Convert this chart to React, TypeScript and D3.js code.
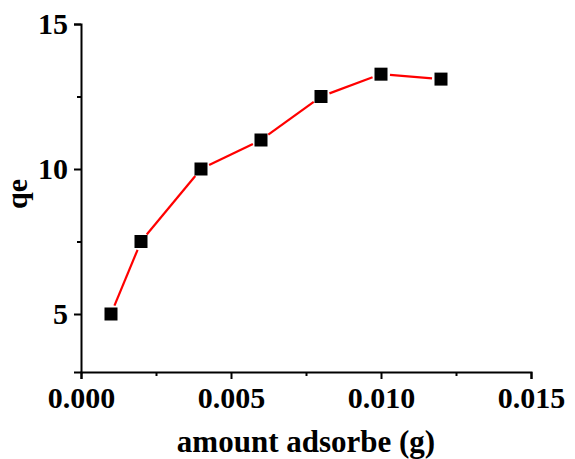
import React, { useEffect, useRef } from "react";
import * as d3 from "d3";

const amounts = [0.001, 0.002, 0.004, 0.006, 0.008, 0.01, 0.012];
const qe = [5, 7.5, 10, 11, 12.5, 13.27, 13.1];
const xTicks = [0, 0.005, 0.01, 0.015];
const xMinor = [0.0025, 0.0075, 0.0125];
const yTicks = [5, 10, 15];
const yMinor = [7.5, 12.5];

const W = 575;
const H = 459;
const FONT = "'Liberation Serif', 'Times New Roman', serif";

const App = () => {
  const svgRef = useRef<SVGSVGElement>(null);

  useEffect(() => {
    const svg = d3.select(svgRef.current);
    svg.selectAll("*").remove();

    const x = d3.scaleLinear().domain([0, 0.015]).range([81, 531]);
    const y = d3.scaleLinear().domain([3, 15]).range([372, 24]);

    // minor ticks
    const gxm = svg.append("g").attr("transform", `translate(0,${y(3)})`);
    gxm.call(d3.axisBottom(x).tickValues(xMinor).tickSize(4).tickFormat(() => ""));
    const gym = svg.append("g").attr("transform", `translate(${x(0)},0)`);
    gym.call(d3.axisLeft(y).tickValues(yMinor).tickSize(4).tickFormat(() => ""));

    // major axes
    const gx = svg.append("g").attr("transform", `translate(0,${y(3)})`);
    gx.call(
      d3.axisBottom(x).tickValues(xTicks).tickSize(7).tickPadding(8).tickFormat(d3.format(".3f"))
    );
    const gy = svg.append("g").attr("transform", `translate(${x(0)},0)`);
    gy.call(d3.axisLeft(y).tickValues(yTicks).tickSize(7).tickPadding(6).tickFormat(d3.format("d")));

    svg.selectAll(".domain").attr("stroke", "#000").attr("stroke-width", 2);
    svg.selectAll(".tick line").attr("stroke", "#000").attr("stroke-width", 2);
    svg
      .selectAll(".tick text")
      .attr("fill", "#000")
      .attr("font-family", FONT)
      .attr("font-weight", "bold")
      .attr("font-size", 30);
    gy.selectAll(".tick text").attr("dy", "0.32em");
    gx.selectAll(".tick text").attr("dy", "0.71em");
    gxm.select(".domain").remove();
    gym.select(".domain").remove();

    // line segments with gaps near markers
    const pts = amounts.map((a, i) => [x(a), y(qe[i])] as [number, number]);
    const gap = 9;
    const seg = svg.append("g");
    for (let i = 0; i < pts.length - 1; i++) {
      const [x0, y0] = pts[i];
      const [x1, y1] = pts[i + 1];
      const len = Math.hypot(x1 - x0, y1 - y0);
      const ux = (x1 - x0) / len;
      const uy = (y1 - y0) / len;
      seg
        .append("line")
        .attr("x1", x0 + ux * gap)
        .attr("y1", y0 + uy * gap)
        .attr("x2", x1 - ux * gap)
        .attr("y2", y1 - uy * gap)
        .attr("stroke", "#ff0000")
        .attr("stroke-width", 2.2);
    }

    svg
      .append("g")
      .selectAll("rect")
      .data(pts)
      .enter()
      .append("rect")
      .attr("x", (d) => d[0] - 6.5)
      .attr("y", (d) => d[1] - 6.5)
      .attr("width", 13)
      .attr("height", 13)
      .attr("fill", "#000");

    svg
      .append("text")
      .attr("x", (x(0) + x(0.015)) / 2)
      .attr("y", 452)
      .attr("text-anchor", "middle")
      .attr("font-family", FONT)
      .attr("font-weight", "bold")
      .attr("font-size", 31)
      .attr("fill", "#000")
      .text("amount adsorbe (g)");

    svg
      .append("text")
      .attr("transform", `translate(27,194) rotate(-90)`)
      .attr("text-anchor", "middle")
      .attr("font-family", FONT)
      .attr("font-weight", "bold")
      .attr("font-size", 30)
      .attr("fill", "#000")
      .text("qe");
  }, []);

  return (
    <svg
      ref={svgRef}
      width={W}
      height={H}
      style={{ position: "absolute", left: 0, top: 0, background: "#fff" }}
    ></svg>
  );
};

export default App;
